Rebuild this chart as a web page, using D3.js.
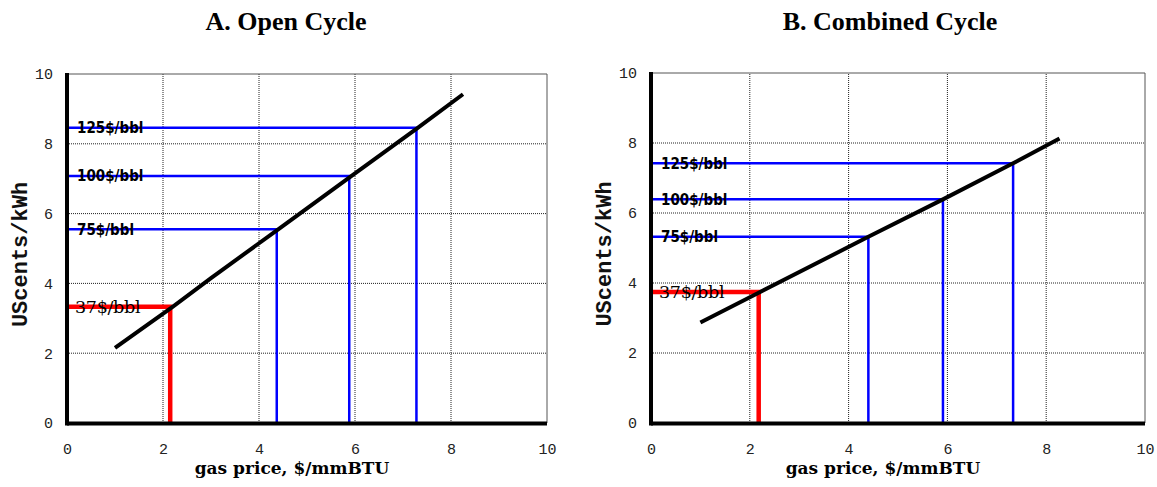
<!DOCTYPE html>
<html>
<head>
<meta charset="utf-8">
<script src="https://cdn.jsdelivr.net/npm/d3@7"></script>
<style>
    body { margin: 0; background: #fff; }
    svg { display: block; }
    .tick text { font-family: "Liberation Mono", monospace; font-size: 15px; fill: #222; }
    .grid line { stroke: #222; stroke-width: 1; stroke-dasharray: 1,1; }
</style>
</head>
<body>
<svg id="chart"></svg>
<script>
// values
const xTicks = [0, 2, 4, 6, 8, 10];
const yTicks = [0, 2, 4, 6, 8, 10];
const oilLabels = ["37$/bbl", "75$/bbl", "100$/bbl", "125$/bbl"];

// A. open cycle
const openX = [1.0, 2.2, 3.0, 4.4, 5.9, 7.3, 8.25];
const openY = [2.15, 3.33, 4.15, 5.55, 7.05, 8.45, 9.42];
const openGas = [2.15, 4.37, 5.88, 7.28];
const openCost = [3.33, 5.55, 7.08, 8.46];

// B. combined cycle
const combX = [1.0, 2.18, 4.4, 5.91, 7.33, 8.27];
const combY = [2.87, 3.72, 5.32, 6.39, 7.42, 8.13];
const combGas = [2.18, 4.40, 5.91, 7.33];
const combCost = [3.74, 5.32, 6.39, 7.42];

const width = 1157;
const height = 487;
const svg = d3.select("#chart")
    .attr("width", width)
    .attr("height", height);

function drawPanel(opt) {
    const x = d3.scaleLinear().domain([0, 10]).range([opt.left, opt.right]);
    const y = d3.scaleLinear().domain([0, 10]).range([423, opt.top]);
    const g = svg.append("g");

    // title
    g.append("text")
        .attr("x", opt.titleX)
        .attr("y", 30)
        .attr("text-anchor", "middle")
        .style("font-family", "'Liberation Serif', serif")
        .style("font-weight", "bold")
        .style("font-size", "26px")
        .text(opt.title);

    // dotted grid
    const grid = g.append("g").attr("class", "grid");
    grid.selectAll(".gx")
        .data(xTicks.slice(1, -1))
        .enter().append("line")
        .attr("x1", d => x(d)).attr("x2", d => x(d))
        .attr("y1", y(0)).attr("y2", y(10));
    grid.selectAll(".gy")
        .data(yTicks.slice(1, -1))
        .enter().append("line")
        .attr("x1", x(0)).attr("x2", x(10))
        .attr("y1", d => y(d)).attr("y2", d => y(d));

    // thin frame top and right
    g.append("path")
        .attr("d", `M${x(0)},${y(10)}H${x(10)}V${y(0)}`)
        .attr("fill", "none")
        .attr("stroke", "#555")
        .attr("stroke-width", 1);

    // guide lines from the axis to the curve and down
    const guides = opt.gas.map((v, i) => ({ gas: v, cost: opt.cost[i], label: oilLabels[i], red: i === 0 }));
    g.selectAll(".guide")
        .data(guides)
        .enter().append("path")
        .attr("d", d => `M${x(0)},${y(d.cost)}H${x(d.gas)}V${y(0)}`)
        .attr("fill", "none")
        .attr("stroke", d => d.red ? "#ff0000" : "#0000ff")
        .attr("stroke-width", d => d.red ? 4.5 : 2.5);

    // labels over the guide lines
    g.selectAll(".lab")
        .data(guides)
        .enter().append("text")
        .attr("x", d => x(0) + (d.red ? 8 : 10))
        .attr("y", d => y(d.cost))
        .attr("dy", "0.36em")
        .style("font-family", d => d.red ? "'DejaVu Serif', serif" : "'DejaVu Sans', sans-serif")
        .style("font-stretch", d => d.red ? "normal" : "condensed")
        .style("font-weight", d => d.red ? "normal" : "bold")
        .style("font-size", d => d.red ? "17.5px" : "15px")
        .style("letter-spacing", d => d.red ? "-0.3px" : "0px")
        .text(d => d.label);

    // cost curve
    const line = d3.line().x(d => x(d[0])).y(d => y(d[1]));
    g.append("path")
        .datum(opt.lx.map((v, i) => [v, opt.ly[i]]))
        .attr("d", line)
        .attr("fill", "none")
        .attr("stroke", "#000")
        .attr("stroke-width", 4);

    // axes
    g.append("g")
        .attr("transform", `translate(0,${y(0)})`)
        .call(d3.axisBottom(x).tickValues(xTicks).tickSize(0).tickPadding(20))
        .call(a => a.select(".domain").remove());
    g.append("g")
        .attr("transform", `translate(${x(0)},0)`)
        .call(d3.axisLeft(y).tickValues(yTicks).tickSize(0).tickPadding(14))
        .call(a => a.select(".domain").remove());

    g.append("line")
        .attr("x1", x(0)).attr("x2", x(10))
        .attr("y1", y(0) + 0.5).attr("y2", y(0) + 0.5)
        .attr("stroke", "#000").attr("stroke-width", 4);
    g.append("line")
        .attr("x1", x(0)).attr("x2", x(0))
        .attr("y1", y(10) - 1).attr("y2", y(0) + 2.5)
        .attr("stroke", "#000").attr("stroke-width", 4);

    // axis titles
    g.append("text")
        .attr("x", opt.xTitleX)
        .attr("y", 474)
        .attr("text-anchor", "middle")
        .style("font-family", "'DejaVu Serif', serif")
        .style("font-weight", "bold")
        .style("font-size", "17px")
        .text("gas price, $/mmBTU");
    g.append("text")
        .attr("transform", `translate(${opt.left - 40},${(y(0) + y(10)) / 2 + 6}) rotate(-90)`)
        .attr("text-anchor", "middle")
        .style("font-family", "'Liberation Mono', monospace")
        .style("font-weight", "bold")
        .style("font-size", "22px")
        .style("fill", "#111")
        .text("UScents/kWh");
}

drawPanel({
    title: "A. Open Cycle", titleX: 286, xTitleX: 292,
    left: 67, right: 547, top: 74,
    lx: openX, ly: openY, gas: openGas, cost: openCost
});
drawPanel({
    title: "B. Combined Cycle", titleX: 890, xTitleX: 883,
    left: 651, right: 1145, top: 73,
    lx: combX, ly: combY, gas: combGas, cost: combCost
});
</script>
</body>
</html>
